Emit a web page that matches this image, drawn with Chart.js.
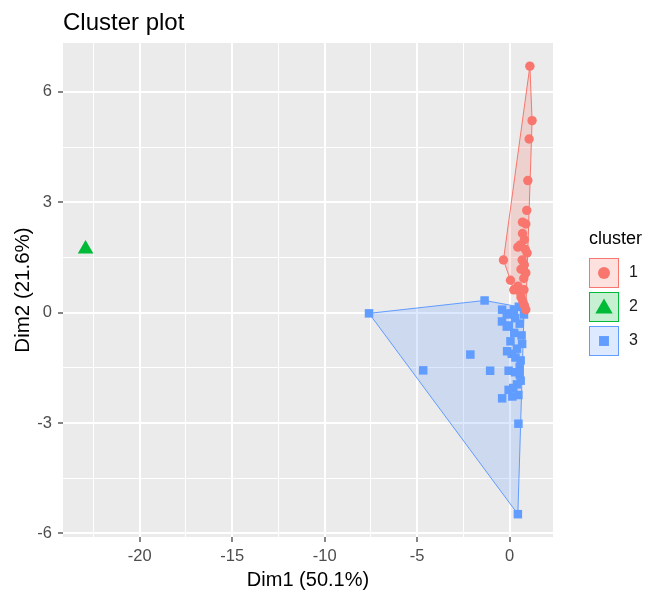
<!DOCTYPE html>
<html>
<head>
<meta charset="utf-8">
<script src="https://cdn.jsdelivr.net/npm/chart.js@4.4.1/dist/chart.umd.min.js"></script>
<style>
  html, body { margin: 0; padding: 0; background: #fff; }
</style>
</head>
<body>
<canvas id="chart" width="650" height="592"></canvas>
<script>
// values
const clusterLabels = ["1", "2", "3"]
const clusterColors = ["#F8766D", "#00BA38", "#619CFF"]
const clusterFills = ["rgba(248,118,109,0.22)", "rgba(0,186,56,0.22)", "rgba(97,156,255,0.22)"]

const cluster1X = [1.10, 1.22, 1.06, 0.99, 0.93, 0.70, 0.88, 0.70, 0.80, 0.59, 0.45, 0.85, 0.95, -0.33,
  0.68, 0.80, 0.62, 0.88, 0.05, 0.77, 0.45, 0.23, 0.55, 0.78, 0.62, 0.72, 0.80, 0.88]
const cluster1Y = [6.70, 5.22, 4.72, 3.59, 2.78, 2.46, 2.41, 2.15, 1.98, 1.84, 1.78, 1.72, 1.62, 1.43,
  1.43, 1.30, 1.18, 1.08, 0.88, 0.93, 0.72, 0.62, 0.60, 0.62, 0.42, 0.30, 0.20, 0.08]

const cluster2X = [-22.93]
const cluster2Y = [1.73]

const cluster3X = [-7.60, -4.67, -2.12, -1.35, -1.05, -0.40, -0.15, 0.05, 0.50, 0.78, 0.30, -0.04, 0.55,
  0.25, 0.65, 0.05, 0.68, 0.40, -0.13, 0.12, 0.32, 0.60, 0.55, -0.05, 0.30, 0.55, 0.60, 0.40, -0.05,
  0.20, -0.40, 0.15, 0.48, 0.48, 0.45, -0.41, 0.23, -0.15]
const cluster3Y = [-0.02, -1.57, -1.14, 0.33, -1.58, 0.08, -0.05, -0.02, 0.16, -0.05, -0.15, -0.35, -0.30,
  -0.55, -0.62, -0.78, -0.85, -0.98, -1.05, -1.12, -1.22, -1.30, -1.48, -1.58, -1.62, -1.68, -1.85, -1.95,
  -2.10, -2.05, -2.33, -2.28, -2.24, -3.02, -5.48, -0.24, 0.07, -0.38]

const xTitle = "Dim1 (50.1%)"
const yTitle = "Dim2 (21.6%)"
const xMin = -24.15, xMax = 2.35
const yMin = -6.1, yMax = 7.33

const toPoints = (xs, ys) => xs.map((x, i) => ({x: x, y: ys[i]}))

// convex hull (monotone chain), closed back to the first vertex
function hull(pts) {
  const p = pts.slice().sort((a, b) => a.x - b.x || a.y - b.y)
  if (p.length < 3) return []
  const cross = (o, a, b) => (a.x - o.x) * (b.y - o.y) - (a.y - o.y) * (b.x - o.x)
  const lower = [], upper = []
  for (const q of p) {
    while (lower.length >= 2 && cross(lower[lower.length - 2], lower[lower.length - 1], q) <= 0) lower.pop()
    lower.push(q)
  }
  for (const q of p.slice().reverse()) {
    while (upper.length >= 2 && cross(upper[upper.length - 2], upper[upper.length - 1], q) <= 0) upper.pop()
    upper.push(q)
  }
  upper.pop()
  lower.pop()
  const h = lower.concat(upper)
  h.push(h[0])
  return h
}

const groups = [toPoints(cluster1X, cluster1Y), toPoints(cluster2X, cluster2Y), toPoints(cluster3X, cluster3Y)]
const styles = [
  {pointStyle: "circle", radius: 4.7},
  {pointStyle: "triangle", radius: 9},
  {pointStyle: "rect", radius: 6},
]

const datasets = []
groups.forEach((pts, i) => {
  datasets.push({
    label: clusterLabels[i],
    data: pts,
    pointStyle: styles[i].pointStyle,
    pointRadius: styles[i].radius,
    backgroundColor: clusterColors[i],
    borderWidth: 0,
    order: 0,
  })
})
groups.forEach((pts, i) => {
  const h = hull(pts)
  if (!h.length) return
  datasets.push({
    type: "line",
    label: "hull " + clusterLabels[i],
    data: h,
    borderColor: clusterColors[i],
    backgroundColor: clusterFills[i],
    borderWidth: 1,
    pointRadius: 0,
    tension: 0,
    fill: "shape",
    order: 1,
  })
})

Chart.defaults.font.family = "'Liberation Sans', Arial, sans-serif"

const isMajorX = v => Math.abs(v % 5) < 1e-9
const isMajorY = v => Math.abs(v % 3) < 1e-9

const panelBg = {
  id: "panelBg",
  beforeDraw(chart) {
    const {ctx, chartArea: a} = chart
    ctx.save()
    ctx.fillStyle = "#fff"
    ctx.fillRect(0, 0, chart.width, chart.height)
    ctx.fillStyle = "#EBEBEB"
    ctx.fillRect(a.left, a.top, a.right - a.left, a.bottom - a.top)
    ctx.restore()
  }
}

const titleAndLegend = {
  id: "titleAndLegend",
  afterDraw(chart) {
    const ctx = chart.ctx
    ctx.save()
    ctx.fillStyle = "#000"
    ctx.font = "24px 'Liberation Sans', Arial, sans-serif"
    ctx.textAlign = "left"
    ctx.textBaseline = "alphabetic"
    ctx.fillText("Cluster plot", 63, 30)

    ctx.font = "18px 'Liberation Sans', Arial, sans-serif"
    ctx.textBaseline = "middle"
    ctx.fillText("cluster", 589, 239)

    const size = 30, left = 589
    clusterLabels.forEach((lab, i) => {
      const top = 258 + i * 34
      ctx.fillStyle = clusterFills[i]
      ctx.fillRect(left, top, size, size)
      ctx.strokeStyle = clusterColors[i]
      ctx.lineWidth = 1
      ctx.strokeRect(left + 0.5, top + 0.5, size - 1, size - 1)
      ctx.fillStyle = clusterColors[i]
      const r = [6, 10, 7][i]
      Chart.helpers.drawPoint(ctx, {pointStyle: styles[i].pointStyle, radius: r, borderWidth: 0, rotation: 0},
        left + size / 2, top + size / 2 + (i === 1 ? 1.5 : 0))
      ctx.fillStyle = "#1a1a1a"
      ctx.font = "16px 'Liberation Sans', Arial, sans-serif"
      ctx.textBaseline = "middle"
      ctx.fillText(lab, 629, top + size / 2)
    })
    ctx.restore()
  }
}

new Chart(document.getElementById("chart"), {
  type: "scatter",
  data: {datasets: datasets},
  plugins: [panelBg, titleAndLegend],
  options: {
    responsive: false,
    animation: false,
    events: [],
    layout: {padding: {top: 43, right: 97, bottom: 0, left: 0}},
    plugins: {legend: {display: false}, tooltip: {enabled: false}, title: {display: false}},
    scales: {
      x: {
        type: "linear",
        min: xMin,
        max: xMax,
        afterFit: s => { s.height = 55 },
        border: {display: false},
        grid: {
          color: "#fff",
          lineWidth: c => isMajorX(c.tick.value) ? 2 : 1,
          tickColor: c => isMajorX(c.tick.value) ? "#333" : "rgba(0,0,0,0)",
          tickLength: 5,
          tickWidth: 1.2,
        },
        ticks: {
          stepSize: 2.5,
          includeBounds: false,
          autoSkip: false,
          maxRotation: 0,
          padding: 5,
          color: "#4D4D4D",
          font: {size: 16.5},
          callback: v => isMajorX(v) ? String(v) : "",
        },
        title: {display: true, text: xTitle, color: "#000", font: {size: 20}, padding: {top: 0, bottom: 0}},
      },
      y: {
        type: "linear",
        min: yMin,
        max: yMax,
        afterFit: s => { s.width = 63 },
        border: {display: false},
        grid: {
          color: "#fff",
          lineWidth: c => isMajorY(c.tick.value) ? 2 : 1,
          tickColor: c => isMajorY(c.tick.value) ? "#333" : "rgba(0,0,0,0)",
          tickLength: 5,
          tickWidth: 1.2,
        },
        ticks: {
          stepSize: 1.5,
          includeBounds: false,
          autoSkip: false,
          padding: 6,
          color: "#4D4D4D",
          font: {size: 16.5},
          callback: v => isMajorY(v) ? String(v) : "",
        },
        title: {display: true, text: yTitle, color: "#000", font: {size: 20.5}, padding: {top: 11, bottom: 0}},
      },
    },
  },
})
</script>
</body>
</html>
